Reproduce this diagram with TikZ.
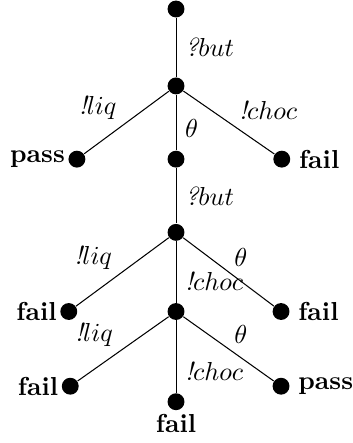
\documentclass[tikz,border=0pt]{standalone}
\usepackage{amsmath}
\usepackage{amssymb}
\usepackage{tikz}
\usetikzlibrary{positioning}
\tikzset{dot node/.style={circle, fill, minimum size=6.5pt, inner sep=0pt},
  outcome/.style={font=\bfseries, inner sep=1pt},
  act/.style={inner sep=2pt},}

\begin{document}
\begin{tikzpicture}[on grid]
        \useasboundingbox (-2.38,0.122) rectangle (2.38,-5.868);
        % Nodes
        \node[dot node] (1) {};
        \node[dot node] [below = 1.04cm of 1] (2) {};
        \node[dot node, label={[outcome]left:pass}] [below left = 0.99cm and 1.34cm of 2] (3) {};
        \node[dot node] [below = 0.99cm of 2] (4) {};
        \node[dot node, label={[outcome, label distance=2pt]right:fail}] [below right = 0.99cm and 1.43cm of 2] (5) {};
        \node[dot node] [below = 0.99cm of 4] (6) {};
        \node[dot node, label={[outcome]left:fail}] [below left = 1.07cm and 1.45cm of 6] (7) {};
        \node[dot node] [below = 1.07cm of 6] (8) {};
        \node[dot node, label={[outcome, label distance=2pt]right:fail}] [below right = 1.07cm and 1.42cm of 6] (9) {};
        \node[dot node, label={[outcome]left:fail}] [below left = 1.01cm and 1.43cm of 8] (10) {};
        \node[dot node, label={[outcome]below:fail}] [below = 1.22cm of 8] (11) {};
        \node[dot node, label={[outcome, label distance=2pt]right:pass}] [below right = 1.01cm and 1.42cm of 8] (12) {};
        % Paths
        \path[draw]
        (1) edge node[right] {$\textit{?}but$} (2)
        (2) edge node[act, pos=0.55, above left] {$\textit{!}liq$} (3)
        (2) edge node[pos=0.6, right] {$\theta$} (4)
        (2) edge node[act, pos=0.55, above right] {$\textit{!}choc$} (5)
        (4) edge node[right] {$\textit{?}but$} (6)
        (6) edge node[act, pos=0.55, above left] {$\textit{!}liq$} (7)
        (6) edge node[pos=0.65, right] {$\textit{!}choc$} (8)
        (6) edge node[act, above right] {$\theta$} (9)
        (8) edge node[act, pos=0.55, above left] {$\textit{!}liq$} (10)
        (8) edge node[pos=0.7, right] {$\textit{!}choc$} (11)
        (8) edge node[act, above right] {$\theta$} (12);
    \end{tikzpicture}
\end{document}
